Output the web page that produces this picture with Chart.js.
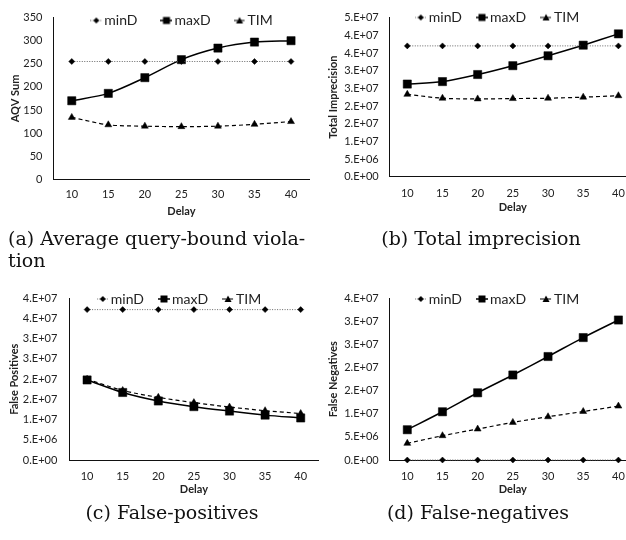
<!DOCTYPE html>
<html><head><meta charset="utf-8">
<script src="https://cdn.jsdelivr.net/npm/chart.js@4/dist/chart.umd.min.js"></script>
<style>
html,body{margin:0;padding:0;background:#fff;overflow:hidden;width:626px;height:540px;position:relative;}
canvas{position:absolute;}
.cap{position:absolute;font-family:"DejaVu Serif",serif;font-size:19px;color:#111;line-height:22px;white-space:nowrap;}
.ctr{text-align:center;width:300px;}
</style></head><body>
<canvas id="ca" width="320" height="225" style="left:0;top:0"></canvas>
<canvas id="cb" width="330" height="225" style="left:313px;top:0"></canvas>
<canvas id="cc" width="330" height="235" style="left:0;top:270px"></canvas>
<canvas id="cd" width="330" height="235" style="left:313px;top:270px"></canvas>
<div class="cap" style="left:8px;top:227px">(a) Average query-bound viola-<br>tion</div>
<div class="cap ctr" style="left:331px;top:227px">(b) Total imprecision</div>
<div class="cap ctr" style="left:22px;top:501px">(c) False-positives</div>
<div class="cap ctr" style="left:328px;top:501px">(d) False-negatives</div>
<script>
// ---- data ----
const delays = ['10','15','20','25','30','35','40'];
const seriesNames = ['minD','maxD','TIM'];

const aqvMinD = [255,255,255,255,255,255,255];
const aqvMaxD = [170,186,220,259,284,297,300];
const aqvTIM  = [134,118,115,114,115,119,125];

const impMinD = [3.70e7,3.70e7,3.70e7,3.70e7,3.70e7,3.70e7,3.70e7];
const impMaxD = [2.62e7,2.69e7,2.89e7,3.14e7,3.42e7,3.72e7,4.04e7];
const impTIM  = [2.33e7,2.22e7,2.20e7,2.21e7,2.22e7,2.25e7,2.29e7];

const fpMinD = [3.72e7,3.72e7,3.72e7,3.72e7,3.72e7,3.72e7,3.72e7];
const fpMaxD = [1.98e7,1.67e7,1.46e7,1.32e7,1.21e7,1.11e7,1.04e7];
const fpTIM  = [2.00e7,1.72e7,1.55e7,1.42e7,1.31e7,1.22e7,1.15e7];

const fnMinD = [0,0,0,0,0,0,0];
const fnMaxD = [6.55e6,1.044e7,1.455e7,1.84e7,2.24e7,2.65e7,3.03e7];
const fnTIM  = [3.6e6,5.26e6,6.7e6,8.14e6,9.36e6,1.05e7,1.167e7];

const aqvTicks = ['0','50','100','150','200','250','300','350'];
const impTicks = ['0.E+00','5.E+06','1.E+07','2.E+07','2.E+07','3.E+07','3.E+07','4.E+07','4.E+07','5.E+07'];
const fpTicks  = ['0.E+00','5.E+06','1.E+07','2.E+07','2.E+07','3.E+07','3.E+07','4.E+07','4.E+07'];
const fnTicks  = ['0.E+00','5.E+06','1.E+07','2.E+07','2.E+07','3.E+07','3.E+07','4.E+07'];

// ---- styles ----
Chart.defaults.font.family = 'Lato';
Chart.defaults.color = '#222';
const TXT = '#222';

const seriesStyle = [
  {borderColor:'#666', borderWidth:1, borderDash:[1,1.5], pointStyle:'rectRot', pointRadius:3, tension:0},
  {borderColor:'#000', borderWidth:1.5, borderDash:[], pointStyle:'rect', pointRadius:5.8, tension:0.3},
  {borderColor:'#000', borderWidth:1.2, borderDash:[4,3], pointStyle:'triangle', pointRadius:4, tension:0.3}
];

function legendIcon(i){
  const c = document.createElement('canvas');
  c.width = 12; c.height = 10;
  const g = c.getContext('2d');
  const s = seriesStyle[i];
  g.strokeStyle = s.borderColor; g.lineWidth = s.borderWidth;
  g.setLineDash(s.borderDash);
  g.beginPath(); g.moveTo(0,5); g.lineTo(12,5); g.stroke();
  g.setLineDash([]);
  g.fillStyle = '#000';
  g.beginPath();
  if (i === 0) { g.moveTo(6,2); g.lineTo(9,5); g.lineTo(6,8); g.lineTo(3,5); }
  else if (i === 1) { g.rect(2.5,1.5,7,7); }
  else { g.moveTo(6,1.5); g.lineTo(9.5,8); g.lineTo(2.5,8); }
  g.closePath(); g.fill();
  return c;
}
const icons = [0,1,2].map(legendIcon);

const legendPlace = {
  id: 'legendPlace',
  beforeInit(chart){
    const lg = chart.legend;
    const fit = lg.fit;
    lg.fit = function(){ fit.call(this); this.height = 0; };
  },
  beforeDraw(chart, args, opts){
    const lg = chart.legend;
    const cx = opts.cx + 2.5;
    lg.left = cx - 150; lg.right = cx + 150; lg.width = 300;
    lg.top = opts.cy - lg.options.labels.padding - 7;
    lg.bottom = lg.top + lg.options.labels.padding + 30;
    lg.height = lg.bottom - lg.top;
  }
};

function makeChart(id, sets, yTitle, yMax, yStep, tickLabels, L){
  const datasets = sets.map((d, i) => Object.assign({
    label: seriesNames[i], data: d,
    backgroundColor:'#000', pointBackgroundColor:'#000', pointBorderColor:'#000',
    pointBorderWidth:0.5, clip:false, fill:false
  }, seriesStyle[i]));
  return new Chart(document.getElementById(id), {
    type:'line',
    data:{labels:delays, datasets},
    plugins:[legendPlace],
    options:{
      responsive:false, animation:false, devicePixelRatio:1,
      layout:{padding:{top:L.top, bottom:L.bottom, left:0, right:L.right}},
      plugins:{
        legendPlace:{cx:L.lx, cy:L.ly},
        tooltip:{enabled:false},
        legend:{
          position:'top',
          labels:{
            usePointStyle:true, pointStyleWidth:2, padding:L.lpad,
            font:{size:14}, color:TXT,
            generateLabels:(chart) => seriesNames.map((n,i) => ({
              text:n, pointStyle:icons[i], fillStyle:'#000', strokeStyle:'#000',
              lineWidth:0, hidden:false, datasetIndex:i, fontColor:TXT
            }))
          }
        }
      },
      scales:{
        x:{
          type:'category', offset:true,
          grid:{display:false, drawTicks:false},
          border:{display:true, color:'#111', width:1},
          ticks:{padding:L.xtp, font:{size:11}, color:TXT, autoSkip:false, maxRotation:0},
          title:{display:true, text:'Delay', font:{size:11, weight:'bold'}, color:TXT, padding:{top:0, bottom:L.xtt}},
          afterFit:(s) => { s.height = 40; }
        },
        y:{
          min:0, max:yMax,
          grid:{display:false, drawTicks:false},
          border:{display:true, color:'#111', width:1},
          ticks:{stepSize:yStep, padding:L.ytp, font:{size:11}, color:TXT,
                 callback:(v, i) => tickLabels[i]},
          title:{display:true, text:yTitle, font:{size:11, weight:'bold'}, color:TXT, padding:{top:L.ytt, bottom:0}},
          afterFit:(s) => { s.width = L.axis; }
        }
      }
    }
  });
}

makeChart('ca', [aqvMinD, aqvMaxD, aqvTIM], 'AQV Sum', 350, 50, aqvTicks,
  {top:12.7, bottom:5.7, right:10.7, axis:53.5, ytp:11, ytt:9, xtp:9, xtt:1.7, lx:181.5, ly:20.5, lpad:28});
makeChart('cb', [impMinD, impMaxD, impTIM], 'Total Imprecision', 4.5e7, 5e6, impTicks,
  {top:15, bottom:8.3, right:7, axis:76.7, ytp:11, ytt:13.4, xtp:10, xtt:3, lx:184, ly:17.5, lpad:19});
makeChart('cc', [fpMinD, fpMaxD, fpTIM], 'False Positives', 4e7, 5e6, fpTicks,
  {top:28.3, bottom:5, right:11.5, axis:69.3, ytp:12, ytt:8, xtp:9.5, xtt:4.4, lx:179, ly:29, lpad:19});
makeChart('cd', [fnMinD, fnMaxD, fnTIM], 'False Negatives', 3.5e7, 5e6, fnTicks,
  {top:28.3, bottom:5, right:7, axis:76.7, ytp:11, ytt:13.4, xtp:10, xtt:3.7, lx:184, ly:29, lpad:19});
</script>
</body></html>
